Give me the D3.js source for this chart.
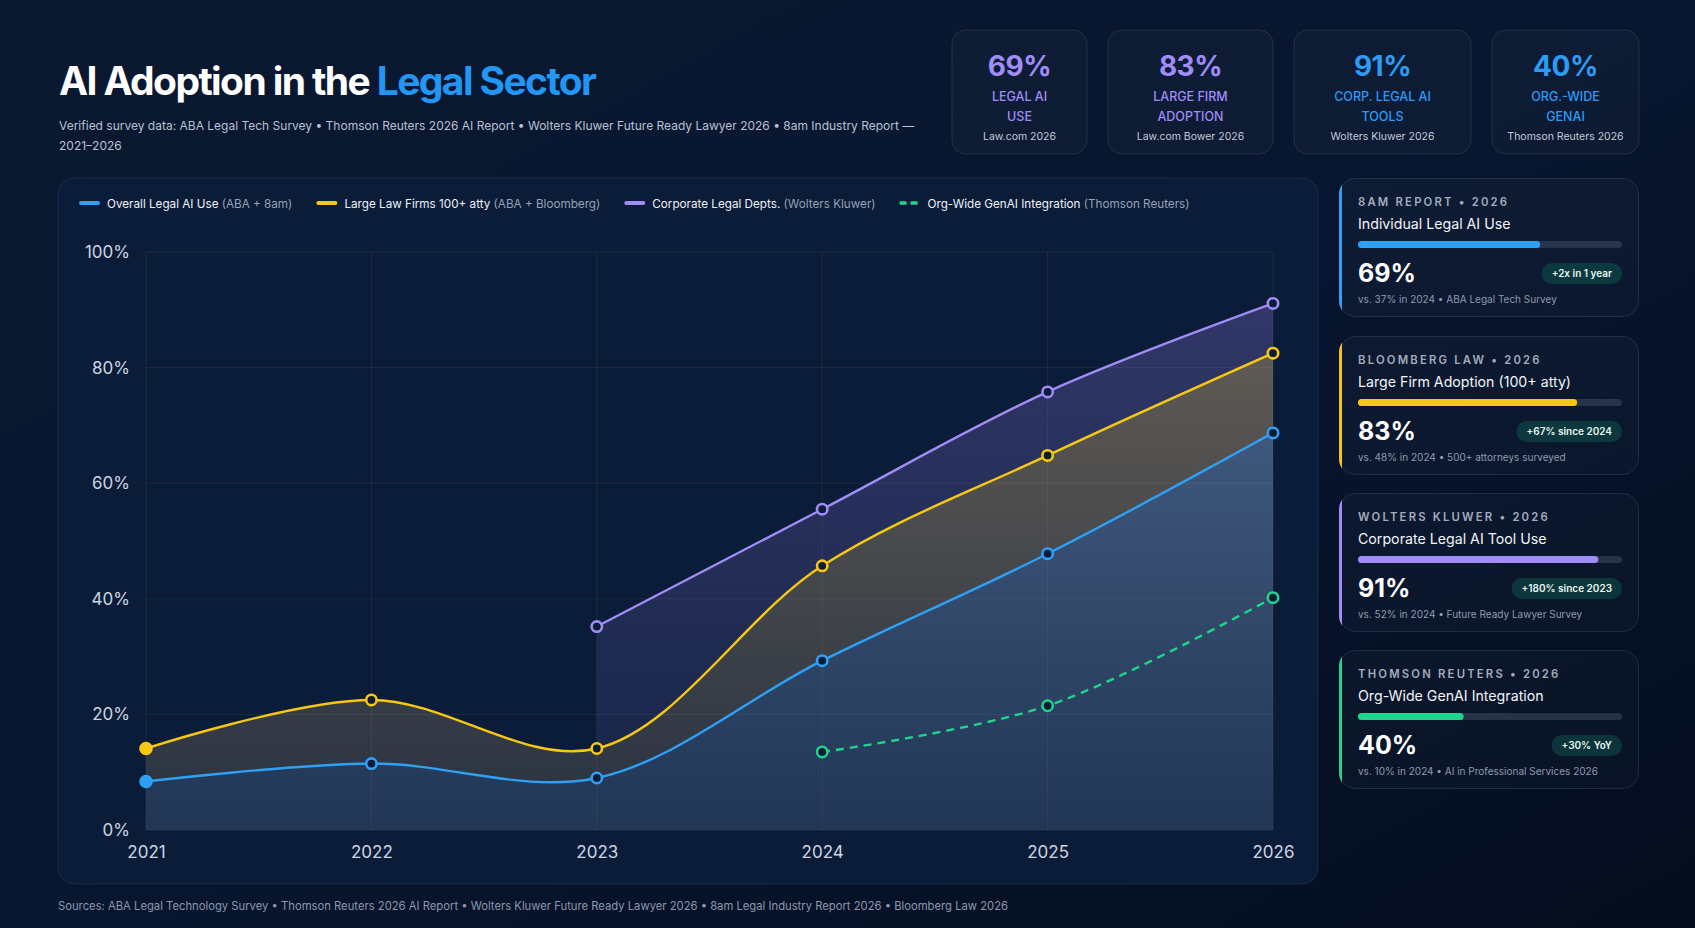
<!DOCTYPE html>
<html><head><meta charset="utf-8">
<script src="https://cdn.jsdelivr.net/npm/d3@7"></script>
<style>
html,body{margin:0;padding:0;background:#071226;overflow:hidden}
svg{display:block;font-family:Inter,"Noto Sans",sans-serif}
</style></head><body>
<svg id="c" width="1695" height="928"></svg>
<script>
// ---------- DATA ----------
const years = [2021, 2022, 2023, 2024, 2025, 2026];
const overallUse   = [8.4, 11.5, 9.0, 29.3, 47.8, 68.7];
const largeFirms   = [14.1, 22.5, 14.1, 45.7, 64.8, 82.5];
const corporate    = [null, null, 35.2, 55.5, 75.8, 91.1];
const orgWideGenAI = [null, null, null, 13.5, 21.5, 40.2];
const yTicks = [0, 20, 40, 60, 80, 100];

const seriesNames = ["Overall Legal AI Use", "Large Law Firms 100+ atty", "Corporate Legal Depts.", "Org-Wide GenAI Integration"];
const seriesSources = ["(ABA + 8am)", "(ABA + Bloomberg)", "(Wolters Kluwer)", "(Thomson Reuters)"];

const kpiValues = ["69%", "83%", "91%", "40%"];
const kpiLabels = [["LEGAL AI", "USE"], ["LARGE FIRM", "ADOPTION"], ["CORP. LEGAL AI", "TOOLS"], ["ORG.-WIDE", "GENAI"]];
const kpiSources = ["Law.com 2026", "Law.com Bower 2026", "Wolters Kluwer 2026", "Thomson Reuters 2026"];

const cardOverlines = ["8AM REPORT • 2026", "BLOOMBERG LAW • 2026", "WOLTERS KLUWER • 2026", "THOMSON REUTERS • 2026"];
const cardTitles = ["Individual Legal AI Use", "Large Firm Adoption (100+ atty)", "Corporate Legal AI Tool Use", "Org-Wide GenAI Integration"];
const cardValues = [69, 83, 91, 40];
const cardBadges = ["+2x in 1 year", "+67% since 2024", "+180% since 2023", "+30% YoY"];
const cardNotes = ["vs. 37% in 2024 • ABA Legal Tech Survey", "vs. 48% in 2024 • 500+ attorneys surveyed", "vs. 52% in 2024 • Future Ready Lawyer Survey", "vs. 10% in 2024 • AI in Professional Services 2026"];

const subtitle1 = "Verified survey data: ABA Legal Tech Survey • Thomson Reuters 2026 AI Report • Wolters Kluwer Future Ready Lawyer 2026 • 8am Industry Report —";
const subtitle2 = "2021–2026";
const footer = "Sources: ABA Legal Technology Survey • Thomson Reuters 2026 AI Report • Wolters Kluwer Future Ready Lawyer 2026 • 8am Legal Industry Report 2026 • Bloomberg Law 2026";

// ---------- STYLE ----------
const C = {blue:"#2ea0f5", yellow:"#f7c812", purple:"#a08cf5", green:"#1fd58c"};
const seriesColors = [C.blue, C.yellow, C.purple, C.green];
const kpiColors = ["#a08cf7", "#a08cf7", "#2c9cf5", "#2c9cf5"];
const cardColors = [C.blue, C.yellow, C.purple, C.green];

const svg = d3.select("#c");
const defs = svg.append("defs");

// background
const bg = defs.append("linearGradient").attr("id","bg").attr("x1",0).attr("y1",0).attr("x2",1).attr("y2",1);
bg.append("stop").attr("offset",0).attr("stop-color","#0a1830");
bg.append("stop").attr("offset",0.5).attr("stop-color","#081630");
bg.append("stop").attr("offset",1).attr("stop-color","#040d1e");
svg.append("rect").attr("width",1695).attr("height",928).attr("fill","url(#bg)");

// ---------- HEADER ----------
const title = svg.append("text").attr("x",59).attr("y",95)
  .attr("font-size",39).attr("font-weight",700).attr("letter-spacing","-1.6px");
title.append("tspan").attr("fill","#ffffff").text("AI Adoption in the ");
title.append("tspan").attr("fill","#2196f3").text("Legal Sector");

svg.append("text").attr("x",59).attr("y",130).attr("font-size",12).attr("fill","#b8c2d2").text(subtitle1);
svg.append("text").attr("x",59).attr("y",150).attr("font-size",12).attr("fill","#b8c2d2").text(subtitle2);

// KPI cards
const kpiX = [952, 1108, 1294, 1492];
const kpiW = [135, 165, 177, 147];
kpiValues.forEach((v,i)=>{
  const g = svg.append("g").attr("transform",`translate(${kpiX[i]},30)`);
  g.append("rect").attr("width",kpiW[i]).attr("height",124).attr("rx",14)
    .attr("fill","rgba(255,255,255,0.025)").attr("stroke","rgba(148,163,184,0.18)");
  const cx = kpiW[i]/2;
  g.append("text").attr("x",cx).attr("y",46).attr("text-anchor","middle").attr("font-size",28).attr("font-weight",700)
    .attr("letter-spacing","-0.5px").attr("fill",kpiColors[i]).text(v);
  kpiLabels[i].forEach((l,j)=>{
    g.append("text").attr("x",cx).attr("y",71+j*20).attr("text-anchor","middle").attr("font-size",12.5).attr("font-weight",500)
      .attr("fill",kpiColors[i]).text(l);
  });
  g.append("text").attr("x",cx).attr("y",110).attr("text-anchor","middle").attr("font-size",10.5)
    .attr("fill","#c3cad8").text(kpiSources[i]);
});

// ---------- CHART PANEL ----------
svg.append("rect").attr("x",58).attr("y",178).attr("width",1260).attr("height",706).attr("rx",16)
  .attr("fill","#0b1c38").attr("stroke","rgba(148,163,184,0.14)");

const x = d3.scalePoint().domain(years).range([146,1273]);
const y = d3.scaleLinear().domain([0,100]).range([830,252]);

// grid
const grid = svg.append("g");
grid.selectAll("line.h").data(yTicks).join("line")
  .attr("x1",x(years[0])).attr("x2",x(years[years.length-1]))
  .attr("y1",d=>y(d)).attr("y2",d=>y(d)).attr("stroke","rgba(255,255,255,0.065)");
grid.selectAll("line.v").data(years).join("line")
  .attr("x1",d=>x(d)).attr("x2",d=>x(d)).attr("y1",y(100)).attr("y2",y(0)).attr("stroke","rgba(255,255,255,0.065)");

// axes
const yAxis = svg.append("g").attr("transform",`translate(${x(years[0])},0)`)
  .call(d3.axisLeft(y).tickValues(yTicks).tickFormat(d=>d+"%").tickSize(0).tickPadding(16));
const xAxis = svg.append("g").attr("transform",`translate(0,${y(0)})`)
  .call(d3.axisBottom(x).tickSize(0).tickPadding(16));
[yAxis,xAxis].forEach(a=>{
  a.select(".domain").remove();
  a.selectAll("text").attr("font-size",17).attr("fill","#cdd5e3").attr("font-family","Inter,sans-serif");
});

// gradients for fills
function grad(id, color, a0, a1){
  const g = defs.append("linearGradient").attr("id",id).attr("gradientUnits","userSpaceOnUse")
    .attr("x1",0).attr("y1",y(100)).attr("x2",0).attr("y2",y(0));
  g.append("stop").attr("offset",0).attr("stop-color",color).attr("stop-opacity",a0);
  g.append("stop").attr("offset",1).attr("stop-color",color).attr("stop-opacity",a1);
}
grad("gPurple", "#a78bfa", 0.26, 0.07);
grad("gYellow", "#d9b57c", 0.46, 0.14);
grad("gBlue", "#82a5d2", 0.55, 0.19);

const curve = d3.curveCatmullRom.alpha(0.5);
const mk = arr => years.map((yr,i)=>({yr, v:arr[i]})).filter(d=>d.v!=null);
function band(top, bottom){
  return years.map((yr,i)=>({yr, v:top[i], b: bottom ? bottom[i] : 0})).filter(d=>d.v!=null);
}
const bandArea = d3.area().x(d=>x(d.yr)).y0(d=>y(d.b)).y1(d=>y(d.v)).curve(curve);
const line = d3.line().x(d=>x(d.yr)).y(d=>y(d.v)).curve(curve);

// clip: region above the full large-firm curve
const aboveYellow = d3.area().x(d=>x(d.yr)).y0(y(100)-5).y1(d=>y(d.v)).curve(curve);
defs.append("clipPath").attr("id","clipAboveYellow").append("path").datum(mk(largeFirms)).attr("d",aboveYellow);

svg.append("path").datum(band(corporate, null)).attr("d",bandArea).attr("fill","url(#gPurple)")
  .attr("clip-path","url(#clipAboveYellow)");
svg.append("path").datum(band(largeFirms, overallUse)).attr("d",bandArea).attr("fill","url(#gYellow)");
svg.append("path").datum(band(overallUse, null)).attr("d",bandArea).attr("fill","url(#gBlue)");

const allSeries = [overallUse, largeFirms, corporate, orgWideGenAI];
const drawOrder = [3,2,1,0];
drawOrder.forEach(i=>{
  svg.append("path").datum(mk(allSeries[i])).attr("d",line).attr("fill","none")
    .attr("stroke",seriesColors[i]).attr("stroke-width",2.4)
    .attr("stroke-dasharray", i===3 ? "8,6" : null);
});
drawOrder.forEach(i=>{
  svg.append("g").selectAll("circle").data(mk(allSeries[i])).join("circle")
    .attr("cx",d=>x(d.yr)).attr("cy",d=>y(d.v))
    .attr("r",d=>d.yr===years[0]?5.5:5.2)
    .attr("fill",d=>d.yr===years[0]?seriesColors[i]:"#0b1c38")
    .attr("stroke",seriesColors[i]).attr("stroke-width",2.6);
});

// legend
let lx = 79;
const ly = 203;
seriesNames.forEach((n,i)=>{
  if(i===3){
    svg.append("line").attr("x1",lx).attr("x2",lx+21).attr("y1",ly).attr("y2",ly)
      .attr("stroke",seriesColors[i]).attr("stroke-width",3.5).attr("stroke-dasharray","7,4");
  } else {
    svg.append("rect").attr("x",lx).attr("y",ly-2).attr("width",21).attr("height",4).attr("rx",2).attr("fill",seriesColors[i]);
  }
  const t = svg.append("text").attr("x",lx+28).attr("y",ly+4.5).attr("font-size",11.7);
  t.append("tspan").attr("fill","#eef2f8").text(n+" ");
  t.append("tspan").attr("fill","#95a1b5").text(seriesSources[i]);
  lx += 28 + t.node().getComputedTextLength() + 24;
});

// ---------- SIDE CARDS ----------
const cardY = [178, 336, 493, 650];
cardTitles.forEach((tt,i)=>{
  const g = svg.append("g").attr("transform",`translate(1339,${cardY[i]})`);
  const cid = "clip"+i;
  defs.append("clipPath").attr("id",cid).append("rect").attr("width",300).attr("height",139).attr("rx",16);
  const inner = g.append("g").attr("clip-path",`url(#${cid})`);
  inner.append("rect").attr("width",300).attr("height",139).attr("fill","rgba(255,255,255,0.025)");
  inner.append("rect").attr("width",3).attr("height",139).attr("fill",cardColors[i]);
  g.append("rect").attr("x",0.5).attr("y",0.5).attr("width",299).attr("height",138).attr("rx",16)
    .attr("fill","none").attr("stroke","rgba(148,163,184,0.16)");
  g.append("text").attr("x",19).attr("y",28).attr("font-size",11.3).attr("font-weight",600)
    .attr("letter-spacing","2.2px").attr("fill","#a2acbd").text(cardOverlines[i]);
  g.append("text").attr("x",19).attr("y",51).attr("font-size",14.2).attr("fill","#f1f5fb").text(tt);
  const bx = d3.scaleLinear().domain([0,100]).range([0,264]);
  g.append("rect").attr("x",19).attr("y",63).attr("width",bx(100)).attr("height",7).attr("rx",3.5).attr("fill","rgba(148,163,184,0.2)");
  g.append("rect").attr("x",19).attr("y",63).attr("width",bx(cardValues[i])).attr("height",7).attr("rx",3.5).attr("fill",cardColors[i]);
  g.append("text").attr("x",19).attr("y",104).attr("font-size",25).attr("font-weight",700).attr("fill","#ffffff").text(cardValues[i]+"%");
  const bt = g.append("text").attr("y",99).attr("font-size",10).attr("font-weight",600).attr("fill","#e8f6ef")
    .attr("text-anchor","end").attr("x",283-10).text(cardBadges[i]);
  const bw = bt.node().getComputedTextLength()+20;
  g.append("rect").attr("x",283-bw).attr("y",85).attr("width",bw).attr("height",21).attr("rx",10.5)
    .attr("fill","rgba(16,185,129,0.2)");
  bt.raise();
  g.append("text").attr("x",19).attr("y",125).attr("font-size",10).attr("fill","#8e9aae").text(cardNotes[i]);
});

// footer
svg.append("text").attr("x",58).attr("y",910).attr("font-size",11.25).attr("fill","#8c98ad").text(footer);
</script>
</body></html>
